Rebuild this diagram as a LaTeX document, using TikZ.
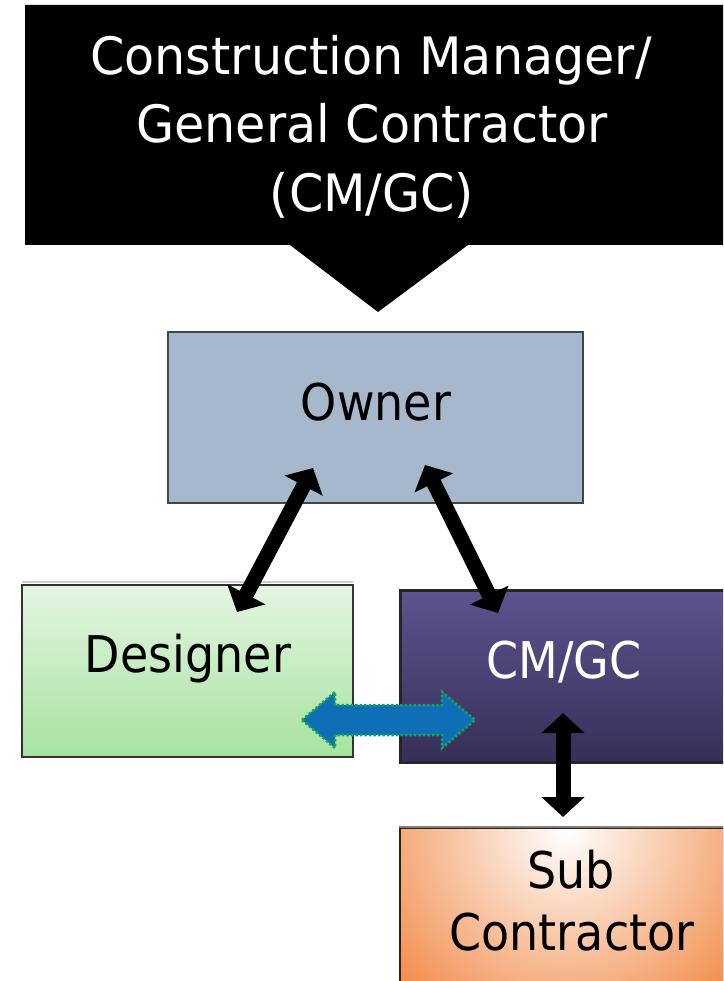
\documentclass[tikz,border=0pt]{standalone}
\usepackage{fontspec}
\setmainfont{DejaVu Sans}
\usetikzlibrary{arrows.meta,calc}

\definecolor{ownerfill}{RGB}{167,183,204}
\definecolor{ownerline}{RGB}{62,70,80}
\definecolor{desigtop}{RGB}{228,245,226}
\definecolor{desigbot}{RGB}{166,226,158}
\definecolor{cmtop}{RGB}{94,83,142}
\definecolor{cmbot}{RGB}{55,47,88}
\definecolor{suborange}{RGB}{240,128,56}
\definecolor{linkblue}{RGB}{14,111,183}
\definecolor{linkgreen}{RGB}{20,165,90}

% taller-than-wide lettering
\newcommand{\tallA}[1]{\scalebox{1}[1.1]{#1}}
\newcommand{\tallB}[1]{\scalebox{1.07}[1.12]{#1}}

\begin{document}
\begin{tikzpicture}[x=1pt,y=-1pt,
  box/.style={rectangle, inner sep=0pt, line width=2.5pt},
  label/.style={anchor=base, inner sep=0pt, font=\fontsize{46}{56}\selectfont},
  twoway/.style={line width=15pt,
    {Triangle[width=42pt,length=20pt]}-{Triangle[width=42pt,length=20pt]}}
]
\useasboundingbox (0,0) rectangle (723,981);
\clip (0,0) rectangle (723,981);

% banner with its downward pointer
\fill[black] (25,5) -- (760,5) -- (760,245) -- (468,245) -- (378,312)
  -- (290,245) -- (25,245) -- cycle;
\node[label, text=white] (t1) at (371,75) {\tallB{Construction Manager/}};
\node[label, text=white] (t2) at (372,143) {\tallB{General Contractor}};
\node[label, text=white] (t3) at (372,212) {\tallB{(CM/GC)}};

% boxes
\node[box, draw=ownerline, fill=ownerfill, minimum width=415pt,
  minimum height=171pt] (owner) at (375.5,417.5) {};
\draw[black!20, line width=2pt] (22,582) -- (353,582);
\node[box, draw=black!80, top color=desigtop, bottom color=desigbot,
  minimum width=331pt, minimum height=172pt] (designer) at (187.5,671) {};
\node[box, draw=black!85, line width=3pt, top color=cmtop, bottom color=cmbot,
  minimum width=360pt, minimum height=172pt] (cmgc) at (580,676) {};

% Sub Contractor box: white glow under the top edge fading to orange
\begin{scope}
  \clip (400,828) rectangle (760,1000);
  \fill[suborange] (400,828) rectangle (760,1000);
  \shade[inner color=white, outer color=suborange] (566,830) circle (250);
\end{scope}
\node[box, draw=black!75!brown, minimum width=360pt,
  minimum height=180pt] (sub) at (580,918) {};
\draw[gray, line width=2.5pt] (sub.north west) -- (sub.north east);

\node[label] (ownerlbl) at (376,420) {\tallA{Owner}};
\node[label] (desiglbl) at (188,672) {\tallA{Designer}};
\node[label, text=white] (cmlbl) at (564,678) {\tallA{CM/GC}};
\node[label] (sublbl1) at (571,888) {\tallA{Sub}};
\node[label] (sublbl2) at (572,950) {\tallA{Contractor}};

% connector end points
\coordinate (ow1) at (313,468);
\coordinate (de1) at (237,612);
\coordinate (ow2) at (425,465);
\coordinate (cm1) at (498,613);
\coordinate (cm2) at (563,713);
\coordinate (sb1) at (563,817);
\coordinate (dl) at (302,720);
\coordinate (dr) at (475,720);

\draw[twoway] (ow1) -- (de1);
\draw[twoway] (ow2) -- (cm1);
\draw[twoway] (cm2) -- (sb1);

% Designer <-> CM/GC link
\draw[linkgreen, fill=linkblue, line width=2.5pt, dotted]
  (dl) -- ++(33,-28) -- ++(0,13) -- ($(dr)+(-33,-15)$) -- ++(0,-13)
  -- (dr) -- ++(-33,28) -- ++(0,-13) -- ($(dl)+(33,15)$) -- ++(0,13) -- cycle;
\end{tikzpicture}
\end{document}
